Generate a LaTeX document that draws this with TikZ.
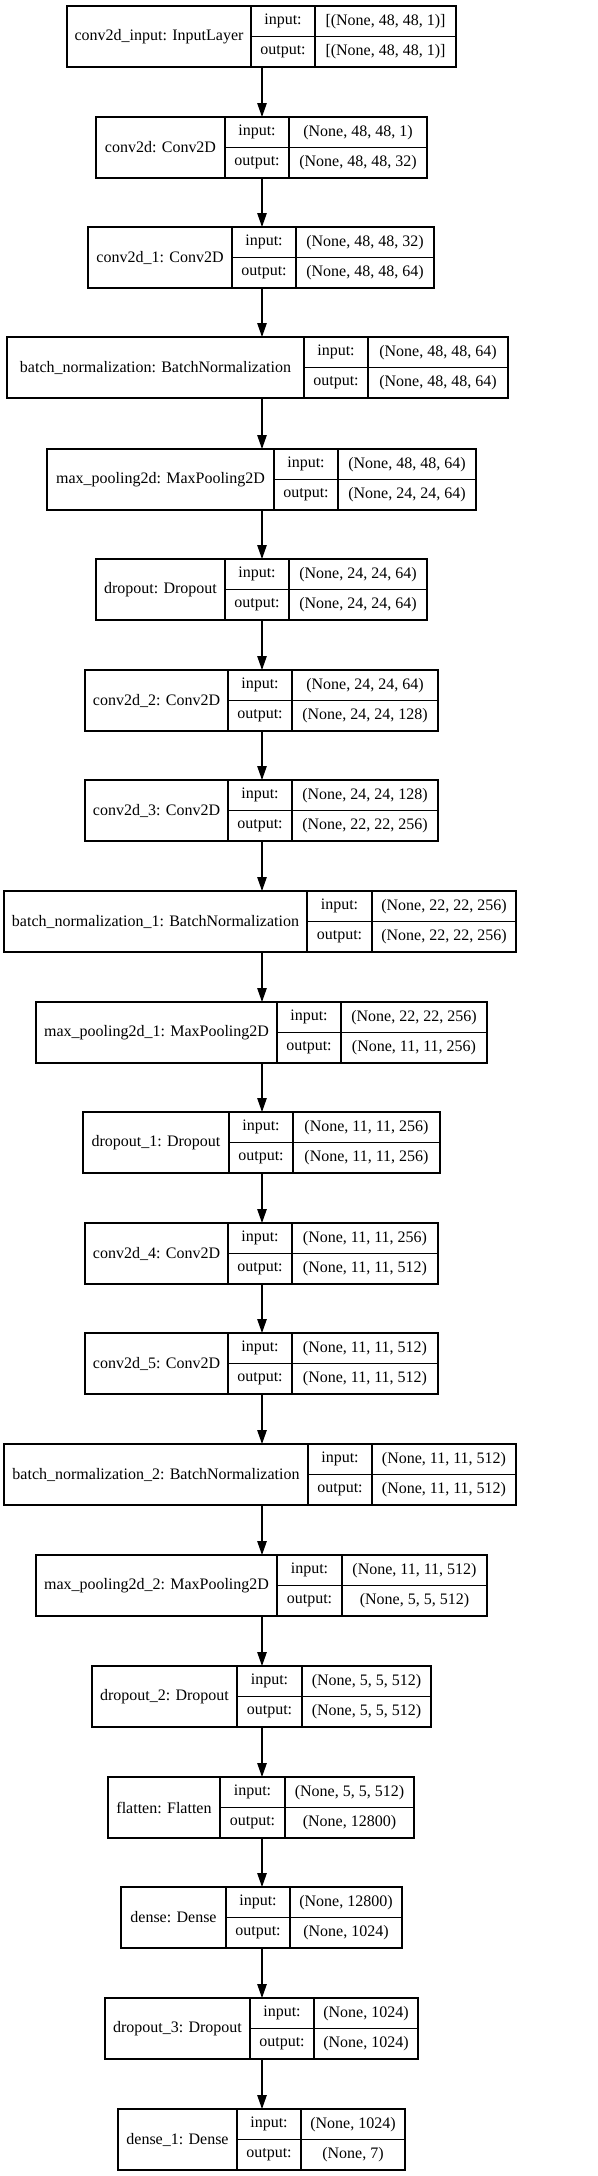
\documentclass[tikz,border=0pt]{standalone}
\usepackage{fontspec}
\setmainfont{Liberation Serif}
\usetikzlibrary{positioning, arrows.meta}

\begin{document}
\begin{tikzpicture}[
        x=1pt, y=-1pt,
        every node/.style={font=\fontsize{16}{19}\selectfont, inner sep=0pt, outer sep=0pt},
        % cella con il nome del layer
        namecell/.style={draw, line width=1.2pt, minimum height=61pt, anchor=north west, align=center},
        % celle input/output e forme
        iocell/.style={draw, line width=1.2pt, minimum height=30.5pt, anchor=north west, align=center},
        % freccia tra i layer
        arrow/.style={-{Triangle[length=14pt, width=9.5pt]}, line width=1.2pt}
    ]

    \useasboundingbox (0,0) rectangle (597,2176);

    % --- Layers: top/left/divider1/divider2/right/name/input/output ---
    \foreach \t/\l/\a/\b/\r/\nm/\ins/\outs [count=\i] in {
        6/67/251/315/456/{conv2d\_input: InputLayer}/{[(None, 48, 48, 1)]}/{[(None, 48, 48, 1)]},
        117/96/225/289/427/{conv2d: Conv2D}/{(None, 48, 48, 1)}/{(None, 48, 48, 32)},
        227/88/232/296/434/{conv2d\_1: Conv2D}/{(None, 48, 48, 32)}/{(None, 48, 48, 64)},
        337/7/304/368/508/{batch\_normalization: BatchNormalization}/{(None, 48, 48, 64)}/{(None, 48, 48, 64)},
        449/47/274/338/476/{max\_pooling2d: MaxPooling2D}/{(None, 48, 48, 64)}/{(None, 24, 24, 64)},
        559/96/225/289/427/{dropout: Dropout}/{(None, 24, 24, 64)}/{(None, 24, 24, 64)},
        670/85/228/292/438/{conv2d\_2: Conv2D}/{(None, 24, 24, 64)}/{(None, 24, 24, 128)},
        780/85/228/292/438/{conv2d\_3: Conv2D}/{(None, 24, 24, 128)}/{(None, 22, 22, 256)},
        891/4/307/372/516/{batch\_normalization\_1: BatchNormalization}/{(None, 22, 22, 256)}/{(None, 22, 22, 256)},
        1002/36/277/341/487/{max\_pooling2d\_1: MaxPooling2D}/{(None, 22, 22, 256)}/{(None, 11, 11, 256)},
        1112/83/229/293/440/{dropout\_1: Dropout}/{(None, 11, 11, 256)}/{(None, 11, 11, 256)},
        1223/85/228/292/438/{conv2d\_4: Conv2D}/{(None, 11, 11, 256)}/{(None, 11, 11, 512)},
        1333/85/228/292/438/{conv2d\_5: Conv2D}/{(None, 11, 11, 512)}/{(None, 11, 11, 512)},
        1444/4/308/372/516/{batch\_normalization\_2: BatchNormalization}/{(None, 11, 11, 512)}/{(None, 11, 11, 512)},
        1555/36/277/342/487/{max\_pooling2d\_2: MaxPooling2D}/{(None, 11, 11, 512)}/{(None, 5, 5, 512)},
        1666/92/237/302/431/{dropout\_2: Dropout}/{(None, 5, 5, 512)}/{(None, 5, 5, 512)},
        1777/108/220/285/414/{flatten: Flatten}/{(None, 5, 5, 512)}/{(None, 12800)},
        1887/121/226/290/402/{dense: Dense}/{(None, 12800)}/{(None, 1024)},
        1998/105/250/314/418/{dropout\_3: Dropout}/{(None, 1024)}/{(None, 1024)},
        2109/118/237/301/405/{dense\_1: Dense}/{(None, 1024)}/{(None, 7)}} {
        \node[namecell, minimum width=\a-\l] (nm\i) at (\l,\t) {\nm};
        \node[iocell, minimum width=\b-\a] (in\i) at (nm\i.north east) {input:};
        \node[iocell, minimum width=\b-\a] (out\i) at (in\i.south west) {output:};
        \node[iocell, minimum width=\r-\b] (shin\i) at (in\i.north east) {\ins};
        \node[iocell, minimum width=\r-\b] (shout\i) at (shin\i.south west) {\outs};
    }

    % --- Connections ---
    \coordinate (spine) at (262,0);
    \foreach \i in {1,...,19} {
        \pgfmathtruncatemacro\j{\i+1}
        \draw[arrow] (nm\i.south -| spine) -- (nm\j.north -| spine);
    }

\end{tikzpicture}
\end{document}
